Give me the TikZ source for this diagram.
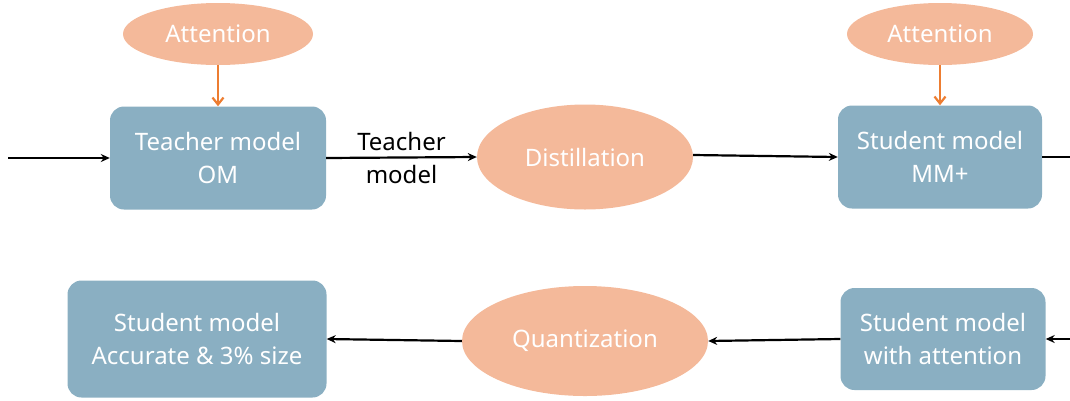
\documentclass[tikz,border=0pt]{standalone}
\usepackage{fontspec}
\setmainfont{Noto Sans}
\usetikzlibrary{shapes.geometric,arrows.meta}
\definecolor{boxblue}{HTML}{8AAFC2}
\definecolor{peach}{HTML}{F4B99A}
\definecolor{orangeline}{HTML}{ED7D31}
\tikzset{
  bigfont/.style={font=\fontsize{24}{33}\selectfont},
  modelbox/.style={draw=none,fill=boxblue,rounded corners=14pt,text=white,align=center,bigfont,inner sep=0pt},
  blob/.style={ellipse,draw=none,fill=peach,text=white,bigfont,inner sep=0pt},
  flow/.style={draw=black,line width=2.2pt,-{Stealth[length=9pt,width=8pt]}},
  attn/.style={draw=orangeline,line width=2.2pt,-{Straight Barb[length=7pt,width=11pt]}},
  edgelabel/.style={bigfont,text=black,inner sep=0pt},
}
\begin{document}
\begin{tikzpicture}[x=1pt,y=-1pt]
\useasboundingbox (0,0) rectangle (1070,400);
% nodes
\node[blob,minimum width=190pt,minimum height=62pt] (att1) at (218,34) {Attention};
\node[blob,minimum width=186pt,minimum height=62pt] (att2) at (940,34) {Attention};
\node[modelbox,minimum width=216pt,minimum height=103pt] (teacher) at (218,158) {Teacher model\\OM};
\node[blob,minimum width=216pt,minimum height=105pt] (distill) at (585,157) {Distillation};
\node[modelbox,minimum width=204pt,minimum height=103pt] (student) at (940,157) {Student model\\MM+};
\node[modelbox,minimum width=205pt,minimum height=102pt] (swa) at (943,339) {Student model\\with attention};
\node[blob,minimum width=246pt,minimum height=110pt] (quant) at (585,341) {Quantization};
\node[modelbox,minimum width=259pt,minimum height=117pt] (final) at (197,339) {Student model\\Accurate \& 3\% size};
\coordinate (inL) at (8,158);
\coordinate (outR) at (1070,157);
\coordinate (inR) at (1070,339);
% connectors
\draw[attn] (att1.south) -- (teacher.north);
\draw[attn] (att2.south) -- (student.north);
\draw[flow] (inL) -- (teacher.west);
\draw[flow] (teacher.east) -- node[above=6pt,edgelabel] {Teacher} node[below=7pt,edgelabel] {model} (distill.west);
\draw[flow] (distill.east) ++(0,-2) -- (student.west);
\draw[draw=black,line width=2.2pt] (student.east) -- (outR);
\draw[flow] (inR) -- (swa.east);
\draw[flow] (swa.west) -- (quant.east);
\draw[flow] (quant.west) -- (final.east);
\end{tikzpicture}
\end{document}
